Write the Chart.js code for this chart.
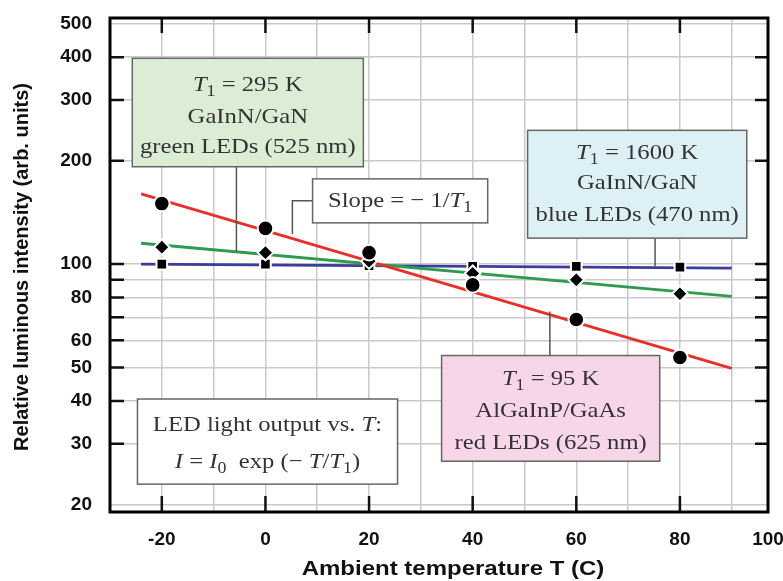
<!DOCTYPE html>
<html>
<head>
<meta charset="utf-8">
<script src="https://cdn.jsdelivr.net/npm/chart.js@4"></script>
<style>
  html, body { margin: 0; padding: 0; background: #fff; }
  canvas { display: block; }
</style>
</head>
<body>
<canvas id="ledChart" width="783" height="581"></canvas>
<script>
// measured points (ambient temperature in C, relative intensity)
const temps = [-20, 0, 20, 40, 60, 80];
const redLeds = [150, 127, 108, 87, 69, 53.5];
const greenLeds = [112, 108, 102, 94, 90, 82];
const blueLeds = [100, 100, 99, 98.6, 98.5, 98];

// exponential fits, read at their two ends
const fitEnds = [-24, 90];
const redFit = [160, 49.7];
const greenFit = [115, 80.6];
const blueFit = [100, 97.3];

const xGridValues = [-30, -20, -10, 0, 10, 20, 30, 40, 50, 60, 70, 80, 90, 97];
const xLabelValues = [-20, 0, 20, 40, 60, 80];
const xEdgeLabel = "100";
const yTickValues = [20, 30, 40, 50, 60, 70, 80, 90, 100, 200, 300, 400, 500];
const yLabelValues = [20, 30, 40, 50, 60, 80, 100, 200, 300, 400, 500];

const X_MIN = -30;
const X_MAX = 97;

const toPoints = (xs, ys) => xs.map((x, i) => ({ x, y: ys[i] }));

// text runs: i = italic, sub = subscript
const t1 = (rest) => [{ t: "T", i: true }, { t: "1", sub: true }, { t: rest }];

const notes = [
  {
    x1: -25.7, x2: 18.9, y1: 397, y2: 192, fill: "#dcedd6",
    rows: [27, 59, 89],
    lines: [t1(" = 295 K"), [{ t: "GaInN/GaN" }], [{ t: "green LEDs (525 nm)" }]],
    leader: [[-5.6, 192], [-5.6, 109]]
  },
  {
    x1: 9.1, x2: 42.9, y1: 177, y2: 131.8, fill: "#ffffff",
    rows: [22],
    lines: [[{ t: "Slope = \u2212 1/" }, { t: "T", i: true }, { t: "1", sub: true }]],
    leader: [[9.1, 152.8], [5.2, 152.8], [5.2, 122.4]]
  },
  {
    x1: 50.6, x2: 92.9, y1: 245, y2: 119, fill: "#ddf0f6",
    rows: [23, 53, 85],
    lines: [t1(" = 1600 K"), [{ t: "GaInN/GaN" }], [{ t: "blue LEDs (470 nm)" }]],
    leader: [[75.2, 119], [75.2, 98.5]]
  },
  {
    x1: 34, x2: 76.1, y1: 54.2, y2: 26.7, fill: "#f6d6e8",
    rows: [24, 56, 88],
    lines: [t1(" = 95 K"), [{ t: "AlGaInP/GaAs" }], [{ t: "red LEDs (625 nm)" }]],
    leader: [[54.9, 54.2], [54.9, 72.8]]
  },
  {
    x1: -24.7, x2: 25.5, y1: 40.5, y2: 22.9, fill: "#ffffff",
    rows: [26, 63],
    lines: [
      [{ t: "LED light output vs. " }, { t: "T", i: true }, { t: ":" }],
      [{ t: "I", i: true }, { t: " = " }, { t: "I", i: true }, { t: "0", sub: true },
       { t: "  exp (\u2212 " }, { t: "T", i: true }, { t: "/" }, { t: "T", i: true },
       { t: "1", sub: true }, { t: ")" }]
    ],
    leader: null
  }
];

function drawRuns(ctx, runs, cx, cy, size, stretch) {
  const fontFor = (r) => `${r.i ? "italic " : ""}${r.sub ? Math.round(size * 0.72) : size}px "Liberation Serif", "Times New Roman", serif`;
  const widths = runs.map((r) => {
    ctx.font = fontFor(r);
    return ctx.measureText(r.t).width;
  });
  const total = widths.reduce((a, b) => a + b, 0);
  ctx.save();
  ctx.translate(cx, cy);
  ctx.scale(stretch, 1);
  ctx.textAlign = "left";
  ctx.textBaseline = "middle";
  ctx.fillStyle = "#333";
  let x = -total / 2;
  runs.forEach((r, k) => {
    ctx.font = fontFor(r);
    ctx.fillText(r.t, x, r.sub ? size * 0.3 : 0);
    x += widths[k];
  });
  ctx.restore();
}

const framePlugin = {
  id: "frame",
  afterDatasetsDraw(chart) {
    const { ctx, chartArea: a, scales } = chart;
    const xs = scales.x;
    const ys = scales.y;
    const px = (v) => xs.getPixelForValue(v);
    const py = (v) => ys.getPixelForValue(v);

    ctx.save();
    // inward tick marks
    ctx.strokeStyle = "#111";
    ctx.lineWidth = 2.5;
    ctx.beginPath();
    xLabelValues.forEach((v) => {
      const x = px(v);
      ctx.moveTo(x, a.top); ctx.lineTo(x, a.top + 15);
      ctx.moveTo(x, a.bottom); ctx.lineTo(x, a.bottom - 16);
    });
    yTickValues.forEach((v) => {
      const y = py(v);
      if (y < a.top + 8 || y > a.bottom - 8) return;
      ctx.moveTo(a.left, y); ctx.lineTo(a.left + 14, y);
      ctx.moveTo(a.right, y); ctx.lineTo(a.right - 13, y);
    });
    ctx.stroke();

    // frame
    ctx.lineWidth = 3;
    ctx.strokeStyle = "#000";
    ctx.strokeRect(a.left, a.top, a.right - a.left, a.bottom - a.top);

    // leaders and labelled boxes
    notes.forEach((n) => {
      if (n.leader) {
        ctx.strokeStyle = "#555";
        ctx.lineWidth = 1.5;
        ctx.beginPath();
        n.leader.forEach(([lx, ly], k) => {
          if (k === 0) ctx.moveTo(px(lx), py(ly));
          else ctx.lineTo(px(lx), py(ly));
        });
        ctx.stroke();
      }
      const left = px(n.x1), right = px(n.x2), top = py(n.y1), bottom = py(n.y2);
      ctx.fillStyle = n.fill;
      ctx.fillRect(left, top, right - left, bottom - top);
      ctx.strokeStyle = "#666";
      ctx.lineWidth = 1.5;
      ctx.strokeRect(left, top, right - left, bottom - top);
      n.lines.forEach((runs, k) => {
        drawRuns(ctx, runs, (left + right) / 2, top + n.rows[k], 22, 1.12);
      });
    });

    // axis titles
    ctx.fillStyle = "#111";
    ctx.textAlign = "center";
    ctx.textBaseline = "middle";
    ctx.font = 'bold 20px "Liberation Sans", Arial, sans-serif';
    ctx.save();
    ctx.translate(453, 569);
    ctx.scale(1.2, 1);
    ctx.fillText("Ambient temperature T (C)", 0, 0);
    ctx.restore();
    ctx.save();
    ctx.translate(22, 267);
    ctx.rotate(-Math.PI / 2);
    ctx.fillText("Relative luminous intensity (arb. units)", 0, 0);
    ctx.restore();
    ctx.restore();
  }
};

const markerStyle = {
  showLine: false,
  pointBackgroundColor: "#000",
  pointBorderColor: "#fff",
  pointBorderWidth: 2,
  order: 0
};

const fitStyle = (color) => ({
  showLine: true,
  borderColor: color,
  borderWidth: 2.8,
  pointRadius: 0,
  pointHoverRadius: 0,
  order: 1
});

const tickFont = { family: '"Liberation Sans", Arial, sans-serif', size: 19, weight: "bold" };

new Chart(document.getElementById("ledChart"), {
  type: "scatter",
  data: {
    datasets: [
      { ...markerStyle, data: toPoints(temps, redLeds), pointStyle: "circle", pointRadius: 7.8, pointHoverRadius: 7.8 },
      { ...markerStyle, data: toPoints(temps, greenLeds), pointStyle: "rectRot", pointRadius: 7.8, pointHoverRadius: 7.8 },
      { ...markerStyle, data: toPoints(temps, blueLeds), pointStyle: "rect", pointRadius: 7.5, pointHoverRadius: 7.5 },
      { ...fitStyle("#e8302a"), data: toPoints(fitEnds, redFit) },
      { ...fitStyle("#2e9b4e"), data: toPoints(fitEnds, greenFit) },
      { ...fitStyle("#3c3c9c"), data: toPoints(fitEnds, blueFit) }
    ]
  },
  options: {
    responsive: false,
    devicePixelRatio: 1,
    animation: false,
    layout: { padding: { top: 18, right: 15, bottom: 0, left: 0 } },
    plugins: {
      legend: { display: false },
      tooltip: { enabled: false }
    },
    scales: {
      x: {
        type: "linear",
        min: X_MIN,
        max: X_MAX,
        afterBuildTicks: (s) => { s.ticks = xGridValues.map((v) => ({ value: v })); },
        afterFit: (s) => { s.height = 69; s.paddingLeft = 0; s.paddingRight = 0; },
        ticks: {
          autoSkip: false,
          maxRotation: 0,
          padding: 16,
          color: "#111",
          font: tickFont,
          callback: (v) => (v === X_MAX ? xEdgeLabel : xLabelValues.includes(v) ? String(v) : "")
        },
        grid: { color: "#c9c9c9", lineWidth: 1.5, drawTicks: false },
        border: { display: false }
      },
      y: {
        type: "logarithmic",
        min: 19,
        max: 520,
        afterBuildTicks: (s) => { s.ticks = yTickValues.map((v) => ({ value: v })); },
        afterFit: (s) => { s.width = 110; s.paddingTop = 0; s.paddingBottom = 0; },
        ticks: {
          autoSkip: false,
          padding: 18,
          color: "#111",
          font: tickFont,
          callback: (v) => (yLabelValues.includes(v) ? String(v) : "")
        },
        grid: { color: "#c9c9c9", lineWidth: 1.5, drawTicks: false },
        border: { display: false }
      }
    }
  },
  plugins: [framePlugin]
});
</script>
</body>
</html>
